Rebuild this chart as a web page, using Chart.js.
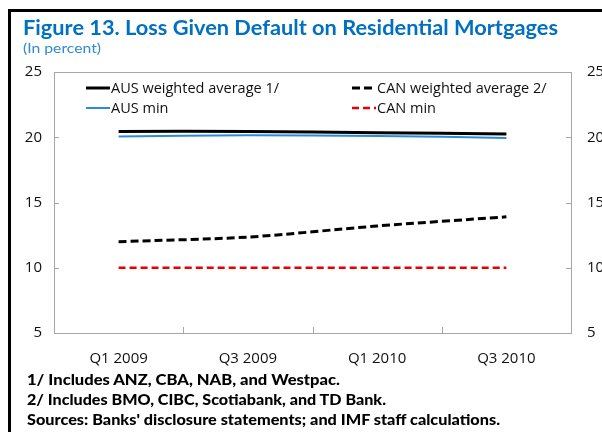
<!DOCTYPE html>
<html>
<head>
<meta charset="utf-8">
<script src="https://cdn.jsdelivr.net/npm/chart.js@4.4.1/dist/chart.umd.min.js"></script>
<style>
  body { margin: 0; background: #fff; }
  #wrap { position: relative; width: 602px; height: 432px; overflow: hidden; }
  #chart { position: absolute; left: 0; top: 0; }
  .frame { position: absolute; left: 8px; top: 9px; width: 700px; height: 600px; border: 3px solid #000; }
  .txt { position: absolute; white-space: nowrap; transform-origin: left top; font-family: Lato, sans-serif; }
  #title { left: 23px; top: 15px; font-size: 20.5px; line-height: 24px; font-weight: bold; color: #0070C0; }
  #sub { left: 23px; top: 40px; font-size: 14px; line-height: 16px; color: #2F8AD0; }
  .note { left: 27px; font-size: 15px; line-height: 20px; font-weight: 900; color: #000; }
</style>
</head>
<body>
<div id="wrap">
  <canvas id="chart" width="602" height="432"></canvas>
  <div class="frame"></div>
  <div class="txt" id="title" data-w="535">Figure 13. Loss Given Default on Residential Mortgages</div>
  <div class="txt" id="sub" data-w="78">(In percent)</div>
  <div class="txt note" style="top:369px" data-w="313">1/ Includes ANZ, CBA, NAB, and Westpac.</div>
  <div class="txt note" style="top:389px" data-w="359">2/ Includes BMO, CIBC, Scotiabank, and TD Bank.</div>
  <div class="txt note" style="top:409px" data-w="473">Sources: Banks' disclosure statements; and IMF staff calculations.</div>
</div>
<script>
// data
const categories = ['Q1 2009', 'Q3 2009', 'Q1 2010', 'Q3 2010'];
const ausWeighted = [20.45, 20.45, 20.35, 20.25];
const canWeighted = [12.0, 12.35, 13.2, 13.9];
const ausMin = [20.05, 20.15, 20.1, 19.95];
const canMin = [10, 10, 10, 10];
const seriesNames = ['AUS weighted average 1/', 'CAN weighted average 2/', 'AUS min', 'CAN min'];
const yMin = 5, yMax = 25, yStep = 5;

// squeeze html text to the width seen in the figure
document.querySelectorAll('.txt').forEach(el => {
  const w = el.getBoundingClientRect().width;
  el.style.transform = 'scaleX(' + (el.dataset.w / w) + ')';
});

const chartFont = 'Open Sans';

// frame of the plot + short inward tick marks
const plotFrame = {
  id: 'plotFrame',
  afterDraw(chart) {
    const ctx = chart.ctx, a = chart.chartArea;
    const x = chart.scales.x, y = chart.scales.y;
    ctx.save();
    ctx.strokeStyle = '#a6a6a6';
    ctx.lineWidth = 1;
    ctx.strokeRect(Math.round(a.left) + 0.5, Math.round(a.top) + 0.5,
      Math.round(a.right - a.left), Math.round(a.bottom - a.top));
    ctx.beginPath();
    y.ticks.forEach(t => {
      const py = Math.round(y.getPixelForValue(t.value)) + 0.5;
      ctx.moveTo(a.left, py); ctx.lineTo(a.left + 5, py);
      ctx.moveTo(a.right - 5, py); ctx.lineTo(a.right, py);
    });
    for (let i = 1; i < categories.length; i++) {
      const px = Math.round((x.getPixelForValue(i - 1) + x.getPixelForValue(i)) / 2) + 0.5;
      ctx.moveTo(px, a.bottom); ctx.lineTo(px, a.bottom - 6);
    }
    ctx.stroke();
    ctx.restore();
  }
};

// legend drawn inside the plot, two columns
const innerLegend = {
  id: 'innerLegend',
  afterDatasetsDraw(chart) {
    const ctx = chart.ctx, a = chart.chartArea;
    const cols = [a.left + 32, a.left + 298];
    const rows = [a.top + 16, a.top + 36];
    ctx.save();
    ctx.font = '14.5px "' + chartFont + '"';
    ctx.textBaseline = 'middle';
    chart.data.datasets.forEach((ds, i) => {
      const lx = cols[i % 2], ly = rows[Math.floor(i / 2)];
      ctx.strokeStyle = ds.borderColor;
      ctx.lineWidth = ds.borderWidth;
      ctx.setLineDash(ds.borderDash || []);
      ctx.beginPath();
      ctx.moveTo(lx, ly); ctx.lineTo(lx + 24, ly);
      ctx.stroke();
      ctx.setLineDash([]);
      ctx.fillStyle = '#111';
      ctx.fillText(ds.label, lx + 25, ly + 1);
    });
    ctx.restore();
  }
};

const ctx = document.getElementById('chart').getContext('2d');
const chart = new Chart(ctx, {
  type: 'line',
  data: {
    labels: categories,
    datasets: [
      { label: seriesNames[0], data: ausWeighted, borderColor: '#000000', borderWidth: 3, order: 1 },
      { label: seriesNames[1], data: canWeighted, borderColor: '#000000', borderWidth: 3, borderDash: [8, 4], order: 2 },
      { label: seriesNames[2], data: ausMin, borderColor: '#2B8BD9', borderWidth: 2, order: 3 },
      { label: seriesNames[3], data: canMin, borderColor: '#E60000', borderWidth: 2.5, borderDash: [7, 4], order: 4 }
    ]
  },
  options: {
    responsive: false,
    devicePixelRatio: 1,
    animation: false,
    elements: {
      point: { radius: 0 },
      line: { tension: 0.3, borderCapStyle: 'butt' }
    },
    layout: { padding: { top: 72, bottom: 60, left: 0, right: 0 } },
    plugins: {
      legend: { display: false },
      tooltip: { enabled: false }
    },
    scales: {
      x: {
        offset: true,
        grid: { display: false, drawTicks: false },
        border: { display: false },
        ticks: { padding: 17, color: '#111', font: { family: chartFont, size: 15 }, maxRotation: 0 },
        afterFit(s) { s.height = 39; }
      },
      y: {
        position: 'left',
        min: yMin, max: yMax,
        grid: { display: false, drawTicks: false },
        border: { display: false },
        ticks: { stepSize: yStep, padding: 12, color: '#111', font: { family: chartFont, size: 15 } },
        afterFit(s) { s.width = 54; }
      },
      y2: {
        position: 'right',
        min: yMin, max: yMax,
        grid: { display: false, drawTicks: false },
        border: { display: false },
        ticks: { stepSize: yStep, padding: 16, color: '#111', font: { family: chartFont, size: 15 } },
        afterFit(s) { s.width = 31; }
      }
    }
  },
  plugins: [plotFrame, innerLegend]
});
</script>
</body>
</html>
